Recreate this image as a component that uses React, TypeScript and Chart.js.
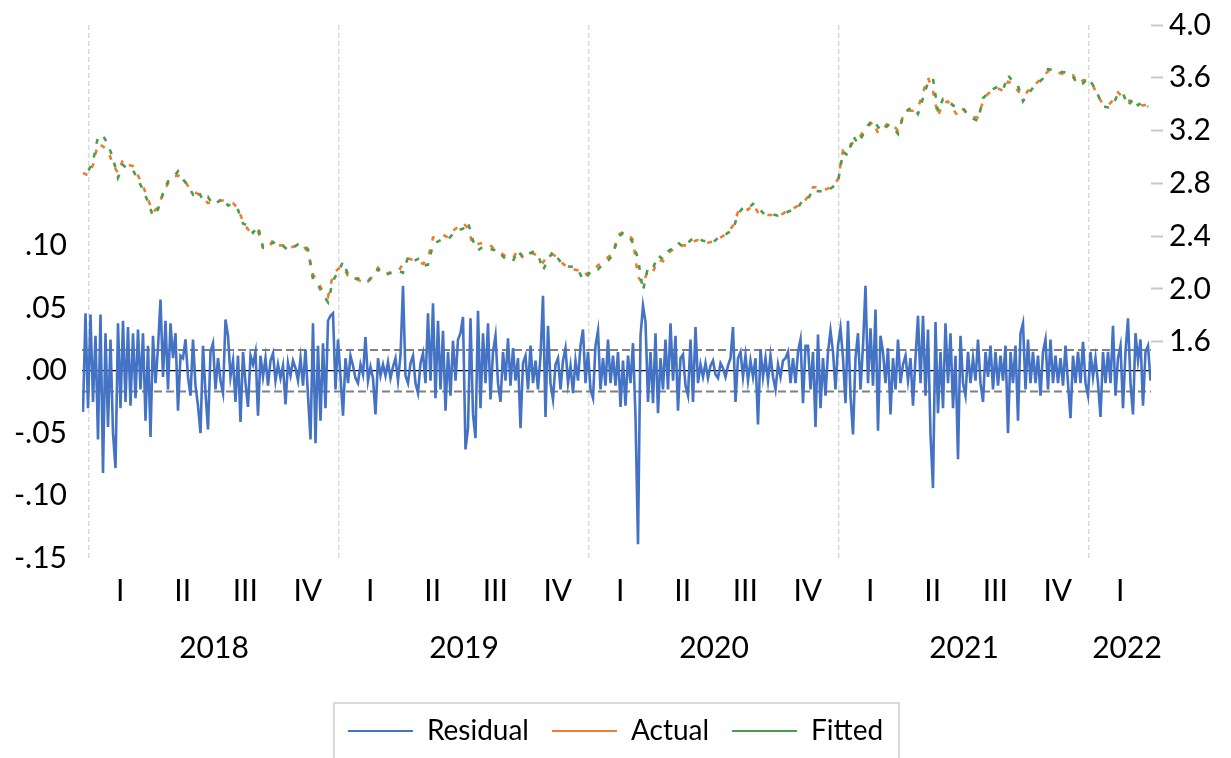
import React, { useEffect, useRef } from 'react';
import { Chart, registerables } from 'chart.js';

Chart.register(...registerables);

// Residual (left axis), one value every 0.01 year starting early Jan 2018
const residual: number[] = [
  -0.033, 0.046, -0.030, 0.045, -0.025, 0.028, -0.055, 0.045, -0.082, 0.030,
  -0.045, 0.025, -0.050, -0.078, 0.038, -0.030, 0.040, -0.025, 0.035, -0.028,
  0.030, -0.022, 0.033, -0.015, 0.030, -0.040, 0.020, -0.053, 0.028, -0.010,
  0.018, 0.057, -0.005, 0.040, -0.015, 0.038, 0.010, 0.030, -0.032, 0.012,
  0.010, 0.025, -0.005, -0.020, 0.025, -0.012, -0.028, -0.050, 0.020, -0.018,
  -0.047, 0.015, 0.022, -0.015, 0.010, -0.008, -0.018, 0.041, 0.028, -0.005,
  0.008, -0.025, 0.012, -0.041, 0.015, -0.010, -0.029, 0.012, 0.005, 0.015,
  -0.036, 0.012, -0.005, 0.010, -0.012, 0.008, 0.014, -0.008, 0.005, -0.006,
  0.004, -0.027, 0.006, -0.004, 0.008, 0.002, -0.008, 0.010, -0.012, 0.017,
  -0.020, -0.055, 0.038, -0.058, 0.020, -0.040, 0.022, -0.030, 0.040, 0.044,
  0.046, -0.015, 0.025, -0.005, -0.036, 0.010, -0.010, 0.012, 0.004, -0.006,
  -0.010, 0.005, -0.003, 0.027, -0.008, 0.003, -0.006, -0.035, 0.010, -0.004,
  0.005, -0.004, 0.007, -0.006, 0.003, 0.010, -0.008, 0.012, 0.068, -0.004,
  -0.010, 0.006, 0.012, -0.010, -0.018, 0.006, 0.014, -0.010, 0.046, -0.008,
  0.054, -0.022, 0.040, -0.015, 0.032, -0.032, 0.015, -0.020, 0.024, -0.008,
  0.025, 0.030, 0.043, -0.063, -0.046, 0.042, -0.035, -0.054, 0.048, -0.030,
  0.030, -0.010, 0.038, -0.023, 0.015, 0.028, -0.010, -0.025, 0.015, -0.008,
  0.026, -0.012, 0.018, -0.008, 0.010, -0.046, 0.006, 0.012, -0.015, 0.020,
  -0.010, 0.008, -0.015, 0.012, 0.060, -0.037, 0.036, -0.010, -0.023, 0.005,
  0.010, -0.015, 0.008, 0.018, -0.010, 0.004, -0.018, 0.008, -0.008, 0.020,
  0.033, -0.010, 0.015, -0.015, -0.022, 0.020, 0.032, -0.015, 0.010, -0.012,
  0.025, -0.010, 0.012, -0.012, 0.015, -0.029, 0.008, -0.028, 0.012, -0.010,
  0.022, -0.037, -0.139, 0.028, 0.052, 0.039, -0.025, 0.015, -0.026, 0.030,
  -0.034, 0.010, -0.015, 0.025, -0.015, 0.038, -0.008, 0.028, -0.032, 0.010,
  0.013, -0.012, -0.020, 0.025, -0.025, 0.035, -0.010, 0.005, -0.005, 0.006,
  -0.006, 0.004, 0.008, -0.003, -0.006, 0.006, 0.002, -0.005, 0.004, 0.010,
  0.035, -0.025, 0.010, 0.015, -0.005, 0.012, -0.008, 0.008, -0.005, 0.010,
  -0.043, 0.017, -0.005, 0.010, -0.008, 0.012, -0.005, -0.015, 0.005, -0.005,
  0.008, 0.010, 0.015, -0.010, 0.010, -0.010, 0.015, 0.025, -0.026, 0.020,
  0.020, -0.015, 0.015, -0.045, 0.029, -0.030, 0.010, -0.020, 0.015, 0.032,
  0.015, -0.015, 0.020, 0.034, 0.010, -0.026, 0.040, -0.020, -0.051, 0.010,
  0.030, -0.015, 0.020, 0.068, -0.010, 0.034, -0.012, 0.049, -0.048, 0.028,
  0.015, -0.010, 0.018, -0.035, 0.010, -0.015, 0.025, -0.010, 0.005, 0.012,
  -0.008, 0.010, -0.028, 0.010, 0.044, -0.010, 0.044, -0.020, 0.033, -0.051,
  -0.094, 0.039, -0.034, 0.015, -0.030, 0.038, -0.010, 0.030, -0.030, 0.012,
  -0.071, 0.028, -0.010, -0.020, 0.015, -0.010, 0.010, -0.008, 0.025, -0.010,
  -0.025, 0.015, -0.005, 0.020, -0.015, 0.015, -0.012, 0.012, -0.008, 0.020,
  -0.050, 0.015, -0.010, 0.020, -0.040, 0.030, 0.038, -0.015, 0.025, -0.010,
  0.015, -0.010, 0.012, -0.020, 0.015, 0.025, -0.015, 0.025, -0.010, 0.012,
  -0.010, 0.010, -0.012, 0.020, -0.010, -0.038, 0.012, -0.010, 0.015, -0.010,
  0.023, -0.010, -0.020, 0.015, -0.005, 0.010, -0.010, -0.037, 0.015, -0.010,
  0.015, -0.010, 0.036, -0.020, 0.010, 0.020, -0.030, 0.015, 0.042, -0.010,
  -0.035, 0.030, 0.008, 0.025, -0.028, 0.015, 0.020, -0.008,
];

// Actual (right axis), one value every 0.02 year from the same start
const actual: number[] = [
  2.88, 2.86, 2.94, 3.10, 3.08, 3.05, 2.94, 2.88, 2.98, 2.94,
  2.93, 2.86, 2.78, 2.68, 2.58, 2.62, 2.72, 2.80, 2.85, 2.86,
  2.84, 2.78, 2.74, 2.72, 2.69, 2.65, 2.66, 2.67, 2.67, 2.66,
  2.65, 2.61, 2.51, 2.45, 2.43, 2.44, 2.31, 2.30, 2.37, 2.33,
  2.33, 2.30, 2.32, 2.33, 2.33, 2.28, 2.11, 2.05, 1.98, 1.94,
  2.11, 2.15, 2.17, 2.10, 2.08, 2.07, 2.05, 2.05, 2.10, 2.16,
  2.11, 2.12, 2.13, 2.13, 2.19, 2.23, 2.22, 2.21, 2.19, 2.23,
  2.39, 2.40, 2.41, 2.39, 2.44, 2.47, 2.50, 2.46, 2.33, 2.34,
  2.35, 2.35, 2.31, 2.29, 2.26, 2.24, 2.23, 2.30, 2.24, 2.25,
  2.27, 2.25, 2.20, 2.26, 2.26, 2.24, 2.19, 2.16, 2.15, 2.14,
  2.10, 2.12, 2.13, 2.18, 2.20, 2.24, 2.27, 2.41, 2.43, 2.42,
  2.37, 2.09, 2.04, 2.14, 2.13, 2.22, 2.21, 2.27, 2.30, 2.32,
  2.33, 2.33, 2.36, 2.37, 2.36, 2.35, 2.36, 2.38, 2.40, 2.43,
  2.48, 2.58, 2.61, 2.60, 2.64, 2.58, 2.57, 2.56, 2.56, 2.56,
  2.57, 2.60, 2.61, 2.63, 2.65, 2.70, 2.77, 2.77, 2.75, 2.76,
  2.79, 2.83, 3.05, 3.05, 3.11, 3.13, 3.19, 3.23, 3.27, 3.18,
  3.21, 3.26, 3.24, 3.20, 3.31, 3.35, 3.35, 3.37, 3.49, 3.60,
  3.50, 3.31, 3.41, 3.42, 3.36, 3.31, 3.36, 3.33, 3.30, 3.30,
  3.42, 3.48, 3.50, 3.52, 3.50, 3.57, 3.56, 3.50, 3.46, 3.50,
  3.54, 3.57, 3.61, 3.65, 3.65, 3.64, 3.63, 3.63, 3.62, 3.56,
  3.58, 3.58, 3.54, 3.46, 3.40, 3.39, 3.43, 3.49, 3.45, 3.43,
  3.41, 3.40, 3.39, 3.40,
];

const seriesStart = 2017.976; // year fraction of the first observation
const residStep = 0.01;
const actualStep = 0.02;
const residStd = 0.0166; // +/- 1 S.E. band of the residual

const xMin = 2017.972;
const xMax = 2022.248;

const yearStarts = [2018, 2019, 2020, 2021, 2022];
const quartersShown = [4, 4, 4, 4, 1];
const quarterLabels = ['I', 'II', 'III', 'IV'];
const yearLabels = ['2018', '2019', '2020', '2021', '2022'];
const yearLabelPos = [2018.5, 2019.5, 2020.5, 2021.5, 2022.152];

const leftTicks = [-0.15, -0.1, -0.05, 0, 0.05, 0.1];
const rightTicks = [1.6, 2.0, 2.4, 2.8, 3.2, 3.6, 4.0];

// Fitted = Actual - Residual (model identity)
const fitted = actual.map((a, j) => +(a - residual[2 * j]).toFixed(4));

const xTickVals: number[] = [];
const xTickText: string[] = [];
const xTickIsYear: boolean[] = [];
yearStarts.forEach((y, k) => {
  xTickVals.push(y);
  xTickText.push('');
  xTickIsYear.push(true);
  for (let q = 0; q < quartersShown[k]; q++) {
    xTickVals.push(y + (q + 0.5) / 4);
    xTickText.push(quarterLabels[q]);
    xTickIsYear.push(false);
  }
});

const FONT = "Lato, 'Liberation Sans', sans-serif";
const TICK_SIZE = 30;

const legendBorder = {
  id: 'legendBorder',
  afterDraw(chart: any) {
    const lg = chart.legend;
    if (!lg || !lg.legendHitBoxes || !lg.legendHitBoxes.length) return;
    const hb = lg.legendHitBoxes;
    const first = hb[0];
    const last = hb[hb.length - 1];
    const ctx = chart.ctx;
    ctx.save();
    ctx.strokeStyle = '#d9d9d9';
    ctx.lineWidth = 2;
    const l = first.left - 14;
    const r = last.left + last.width + 16;
    const t = first.top - 14;
    ctx.strokeRect(l, t, r - l, chart.height - t + 20);
    ctx.restore();
  },
};

export default function App() {
  const ref = useRef<HTMLCanvasElement>(null);

  useEffect(() => {
    if (!ref.current) return;
    Chart.defaults.font.family = FONT;
    Chart.defaults.color = '#000';

    const lineAt = (v: number) => [
      { x: xMin, y: v },
      { x: xMax, y: v },
    ];

    const chart = new Chart(ref.current, {
      type: 'line',
      data: {
        datasets: [
          {
            label: 'Residual',
            data: residual.map((v, i) => ({ x: seriesStart + i * residStep, y: v })),
            xAxisID: 'x',
            yAxisID: 'yLeft',
            borderColor: '#4472C4',
            borderWidth: 2.6,
            pointRadius: 0,
            tension: 0,
            order: 2,
          },
          {
            label: 'Actual',
            data: actual.map((v, j) => ({ x: seriesStart + j * actualStep, y: v })),
            xAxisID: 'x',
            yAxisID: 'yRight',
            borderColor: '#ED7D31',
            borderWidth: 2.6,
            borderDash: [5, 9],
            pointRadius: 0,
            tension: 0,
            order: 1,
          },
          {
            label: 'Fitted',
            data: fitted.map((v, j) => ({ x: seriesStart + j * actualStep, y: v })),
            xAxisID: 'x',
            yAxisID: 'yRight',
            borderColor: '#4A9D4C',
            borderWidth: 2.6,
            borderDash: [5, 9],
            borderDashOffset: 7,
            pointRadius: 0,
            tension: 0,
            order: 0,
          },
          {
            label: 'zero',
            data: lineAt(0),
            xAxisID: 'x',
            yAxisID: 'yLeft',
            borderColor: '#000',
            borderWidth: 1.2,
            pointRadius: 0,
            order: 5,
          },
          {
            label: 'upper',
            data: lineAt(residStd),
            xAxisID: 'x',
            yAxisID: 'yLeft',
            borderColor: '#808080',
            borderWidth: 2,
            borderDash: [8, 4],
            pointRadius: 0,
            order: 4,
          },
          {
            label: 'lower',
            data: lineAt(-residStd),
            xAxisID: 'x',
            yAxisID: 'yLeft',
            borderColor: '#808080',
            borderWidth: 2,
            borderDash: [8, 4],
            pointRadius: 0,
            order: 4,
          },
        ],
      },
      options: {
        animation: false,
        responsive: true,
        maintainAspectRatio: false,
        events: [],
        layout: { padding: { top: 25, bottom: 3, left: 0, right: 0 } },
        scales: {
          x: {
            type: 'linear',
            position: 'bottom',
            weight: 0,
            min: xMin,
            max: xMax,
            afterBuildTicks: (s: any) => {
              s.ticks = xTickVals.map((v) => ({ value: v }));
            },
            afterFit: (s: any) => {
              s.height = 52;
            },
            ticks: {
              autoSkip: false,
              maxRotation: 0,
              padding: 15,
              font: { size: TICK_SIZE },
              color: '#000',
              callback: (_v: any, i: number) => xTickText[i],
            },
            grid: {
              drawTicks: false,
              lineWidth: 1.5,
              color: (c: any) => (xTickIsYear[c.index] ? '#dcdcdc' : 'rgba(0,0,0,0)'),
            },
            border: { display: false, dash: [5, 3] },
          },
          xYear: {
            type: 'linear',
            position: 'bottom',
            weight: 1,
            min: xMin,
            max: xMax,
            afterBuildTicks: (s: any) => {
              s.ticks = yearLabelPos.map((v) => ({ value: v }));
            },
            afterFit: (s: any) => {
              s.height = 84;
            },
            ticks: {
              autoSkip: false,
              maxRotation: 0,
              padding: 20,
              font: { size: TICK_SIZE },
              color: '#000',
              callback: (_v: any, i: number) => yearLabels[i],
            },
            grid: { display: false, drawTicks: false },
            border: { display: false },
          },
          yLeft: {
            type: 'linear',
            position: 'left',
            min: -0.15,
            max: 0.2768,
            afterBuildTicks: (s: any) => {
              s.ticks = leftTicks.map((v) => ({ value: v }));
            },
            afterFit: (s: any) => {
              s.width = 82;
              s.paddingTop = 0;
              s.paddingBottom = 0;
            },
            ticks: {
              padding: 15,
              font: { size: TICK_SIZE },
              color: '#000',
              callback: (v: any) => Number(v).toFixed(2).replace('0.', '.'),
            },
            grid: { display: false, drawTicks: false },
            border: { display: false },
          },
          yRight: {
            type: 'linear',
            position: 'right',
            min: -0.039,
            max: 4.0,
            afterBuildTicks: (s: any) => {
              s.ticks = rightTicks.map((v) => ({ value: v }));
            },
            afterFit: (s: any) => {
              s.width = 80;
              s.paddingTop = 0;
              s.paddingBottom = 0;
            },
            ticks: {
              padding: 6,
              font: { size: TICK_SIZE },
              color: '#000',
              callback: (v: any) => Number(v).toFixed(1),
            },
            grid: {
              drawOnChartArea: false,
              drawTicks: true,
              tickLength: 12,
              tickWidth: 2,
              tickColor: '#c8c8c8',
            },
            border: { display: false },
          },
        },
        plugins: {
          tooltip: { enabled: false },
          legend: {
            display: true,
            position: 'bottom',
            labels: {
              boxWidth: 65,
              boxHeight: 2,
              padding: 23,
              font: { size: 28 },
              color: '#000',
              generateLabels: (chart: any) =>
                [0, 1, 2].map((i) => {
                  const ds = chart.data.datasets[i];
                  return {
                    text: ds.label,
                    fillStyle: ds.borderColor,
                    strokeStyle: ds.borderColor,
                    lineWidth: 0,
                    lineDash: [],
                    hidden: false,
                    datasetIndex: i,
                    fontColor: '#000',
                  };
                }),
            },
          },
        },
      } as any,
      plugins: [legendBorder],
    });

    return () => chart.destroy();
  }, []);

  return (
    <div
      style={{
        position: 'fixed',
        left: 0,
        top: 0,
        width: 1231,
        height: 758,
        background: '#fff',
      }}
    >
      <canvas ref={ref} />
    </div>
  );
}
